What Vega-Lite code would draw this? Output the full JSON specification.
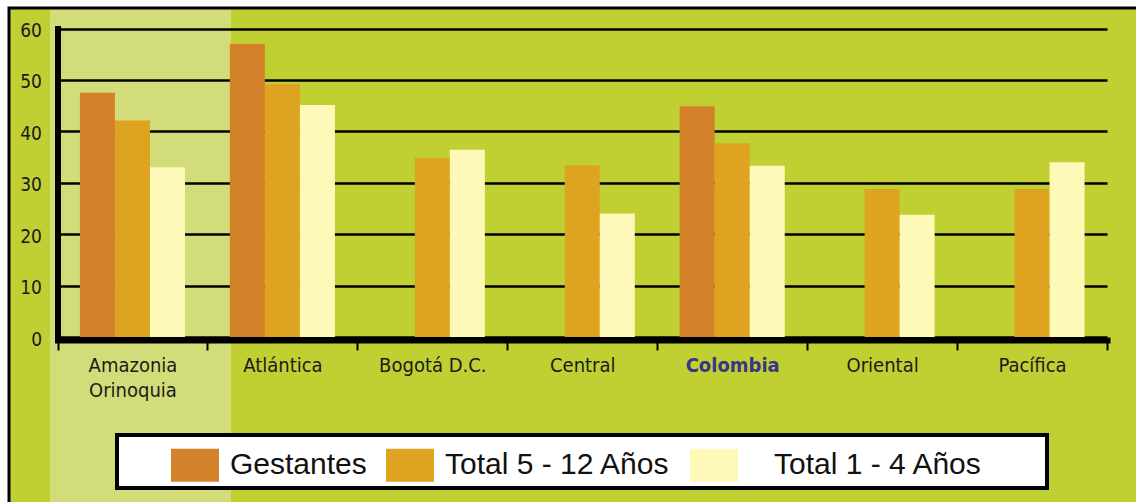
{
  "$schema": "https://vega.github.io/schema/vega-lite/v6.json",
  "width": 1131,
  "height": 498,
  "autosize": {"type": "none"},
  "padding": {"left": 9, "top": 8, "right": -4, "bottom": -4},
  "background": "white",
  "config": {
    "view": {
      "fill": {
        "gradient": "linear", "x1": 0, "x2": 1, "y1": 0, "y2": 0,
        "stops": [
          {"offset": 0, "color": "#c0d032"},
          {"offset": 0.0362, "color": "#c0d032"},
          {"offset": 0.0363, "color": "#d2dc78"},
          {"offset": 0.1962, "color": "#d2dc78"},
          {"offset": 0.1963, "color": "#c0d032"},
          {"offset": 1, "color": "#c0d032"}
        ]
      },
      "stroke": "black",
      "strokeWidth": 3
    }
  },
  "data": {
    "values": [
      {"region": "Amazonia Orinoquia", "series": "Gestantes", "value": 47.5},
      {"region": "Amazonia Orinoquia", "series": "Total 5 - 12 Años", "value": 42.1},
      {"region": "Amazonia Orinoquia", "series": "Total 1 - 4 Años", "value": 33.0},
      {"region": "Atlántica", "series": "Gestantes", "value": 57.0},
      {"region": "Atlántica", "series": "Total 5 - 12 Años", "value": 49.2},
      {"region": "Atlántica", "series": "Total 1 - 4 Años", "value": 45.1},
      {"region": "Bogotá D.C.", "series": "Total 5 - 12 Años", "value": 34.8},
      {"region": "Bogotá D.C.", "series": "Total 1 - 4 Años", "value": 36.4},
      {"region": "Central", "series": "Total 5 - 12 Años", "value": 33.4},
      {"region": "Central", "series": "Total 1 - 4 Años", "value": 24.0},
      {"region": "Colombia", "series": "Gestantes", "value": 44.9},
      {"region": "Colombia", "series": "Total 5 - 12 Años", "value": 37.7},
      {"region": "Colombia", "series": "Total 1 - 4 Años", "value": 33.3},
      {"region": "Oriental", "series": "Total 5 - 12 Años", "value": 28.8},
      {"region": "Oriental", "series": "Total 1 - 4 Años", "value": 23.8},
      {"region": "Pacífica", "series": "Total 5 - 12 Años", "value": 28.8},
      {"region": "Pacífica", "series": "Total 1 - 4 Años", "value": 34.0}
    ]
  },
  "mark": {"type": "bar"},
  "encoding": {
    "x": {
      "field": "region",
      "type": "nominal",
      "sort": null,
      "scale": {
        "domain": ["Amazonia Orinoquia", "Atlántica", "Bogotá D.C.", "Central", "Colombia", "Oriental", "Pacífica"],
        "range": [48.5, 1098],
        "paddingInner": 0,
        "paddingOuter": 0
      },
      "axis": {
        "orient": "bottom",
        "offset": -166,
        "title": null,
        "grid": false,
        "domain": true,
        "domainColor": "black",
        "domainWidth": 6,
        "domainCap": "square",
        "ticks": true,
        "tickBand": "extent",
        "tickColor": "black",
        "tickWidth": 2,
        "tickSize": 10,
        "labelAngle": 0,
        "labelFont": "DejaVu Sans Condensed, Liberation Sans, Arial, sans-serif",
        "labelFontSize": 20,
        "labelPadding": 5,
        "labelLineHeight": 25,
        "labelLimit": 300,
        "labelExpr": "datum.value == 'Amazonia Orinoquia' ? ['Amazonia', 'Orinoquia'] : datum.label",
        "labelColor": {"condition": {"test": "datum.value == 'Colombia'", "value": "#3b3585"}, "value": "#1a1a1a"},
        "labelFontWeight": {"condition": {"test": "datum.value == 'Colombia'", "value": "bold"}, "value": "normal"}
      }
    },
    "xOffset": {
      "field": "series",
      "type": "nominal",
      "scale": {
        "domain": ["Gestantes", "Total 5 - 12 Años", "Total 1 - 4 Años"],
        "paddingInner": 0,
        "paddingOuter": 0.64
      }
    },
    "y": {
      "field": "value",
      "type": "quantitative",
      "scale": {"domain": [0, 60], "range": [329, 20.5], "nice": false, "zero": true},
      "axis": {
        "title": null,
        "values": [0, 10, 20, 30, 40, 50, 60],
        "offset": -48.5,
        "domain": true,
        "domainColor": "black",
        "domainWidth": 6,
        "domainCap": "square",
        "ticks": false,
        "grid": true,
        "gridColor": "black",
        "gridWidth": 2.5,
        "labelFont": "DejaVu Sans Condensed, Liberation Sans, Arial, sans-serif",
        "labelFontSize": 19,
        "labelColor": "#1a1a1a",
        "labelPadding": 16,
        "labelOffset": 2
      }
    },
    "color": {
      "field": "series",
      "type": "nominal",
      "scale": {
        "domain": ["Gestantes", "Total 5 - 12 Años", "Total 1 - 4 Años"],
        "range": ["#d4822a", "#dea321", "#fef9b8"]
      },
      "legend": {
        "orient": "none",
        "legendX": 108,
        "legendY": 427,
        "direction": "horizontal",
        "title": " ",
        "titleOrient": "left",
        "titleFontSize": 1,
        "titlePadding": 48,
        "symbolType": "M-1,-0.6875H1V0.6875H-1Z",
        "symbolSize": 2304,
        "symbolStrokeWidth": 0,
        "symbolOpacity": 1,
        "labelFont": "Liberation Sans, Arial, sans-serif",
        "labelFontSize": 30,
        "labelColor": "#111111",
        "labelOffset": 11,
        "labelLimit": 600,
        "columnPadding": 19,
        "padding": 6,
        "fillColor": "white",
        "strokeColor": "black",
        "encode": {"legend": {"update": {"strokeWidth": {"value": 4}}}},
        "labelExpr": "datum.label == 'Total 1 - 4 Años' ? '\u200b\u00a0\u00a0\u00a0' + datum.label + '\u00a0\u00a0\u00a0\u00a0\u00a0\u00a0\u00a0\u200b' : datum.label"
      }
    }
  }
}
